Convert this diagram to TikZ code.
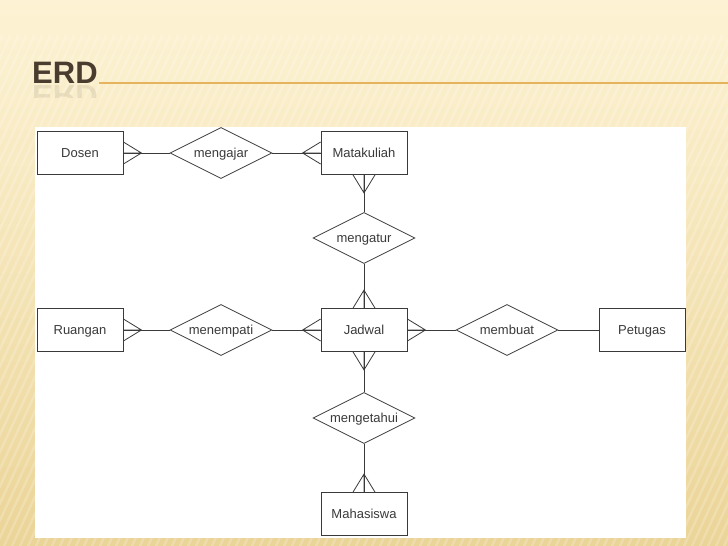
\documentclass[tikz,border=0pt]{standalone}
\usepackage{fontspec}
\setmainfont{Liberation Sans}
\usetikzlibrary{shapes.geometric,calc}

\definecolor{slidetop}{HTML}{FDF3D4}
\definecolor{slidebot}{HTML}{EBD497}
\definecolor{titlebrown}{HTML}{4A3C2E}
\definecolor{ruleorange}{HTML}{E6B45E}
\definecolor{erline}{HTML}{3A3A3A}

\tikzset{
  entity/.style={draw=erline, line width=.8pt, fill=white, minimum width=86pt,
    minimum height=43pt, inner sep=0pt, text=erline, text height=9pt, text depth=0pt,
    font=\fontsize{13}{15}\selectfont},
  relation/.style={draw=erline, line width=.8pt, fill=white, diamond, aspect=2,
    minimum width=102pt, minimum height=51pt, inner sep=0pt, text=erline,
    text height=9pt, text depth=0pt, font=\fontsize{13}{15}\selectfont},
  link/.style={draw=erline, line width=.8pt}
}
% three prongs at anchor #1, pointing in direction #2
\newcommand{\crowfoot}[2]{%
  \draw[link] ($(#1)+(#2+90:11)$) -- ($(#1)+(#2:18)$) -- ($(#1)+(#2-90:11)$)
    (#1) -- ($(#1)+(#2:18)$);}

\begin{document}
\begin{tikzpicture}[x=1pt,y=-1pt]
   \useasboundingbox (0,0) rectangle (728,546);
   % slide background
   \shade[top color=slidetop, bottom color=slidebot] (0,0) rectangle (728,546);
   \begin{scope}
     \clip (0,35) rectangle (728,546);
     \foreach \i in {-300,-292,...,728}
       \draw[white, opacity=.2, line width=2.5pt] (\i,546) -- (\i+255,0);
   \end{scope}
   % title
   \node[anchor=base west, inner sep=0pt, text=titlebrown,
     font=\fontsize{31}{31}\bfseries] (title) at (32,83) {ERD};
   \begin{scope}
     \clip (30,84) rectangle (100,97);
     \node[anchor=base west, inner sep=0pt, text=titlebrown, opacity=.1, yscale=-1,
       font=\fontsize{31}{31}\bfseries] at (32,85) {ERD};
   \end{scope}
   \draw[ruleorange, line width=1.5pt] (title.base east) ++(1,0) -- (728,83);
   \fill[white] (35,127) rectangle (686,538);

   % entities
   \node[entity] (dosen) at (80,153) {Dosen};
   \node[entity] (matakuliah) at (364,153) {Matakuliah};
   \node[entity] (ruangan) at (80,330) {Ruangan};
   \node[entity] (jadwal) at (364,330) {Jadwal};
   \node[entity] (petugas) at (642,330) {Petugas};
   \node[entity] (mahasiswa) at (364,514) {Mahasiswa};
   % relations
   \node[relation] (mengajar) at (221,153) {mengajar};
   \node[relation] (mengatur) at (364,238) {mengatur};
   \node[relation] (menempati) at (221,330) {menempati};
   \node[relation] (membuat) at (507,330) {membuat};
   \node[relation] (mengetahui) at (364,418) {mengetahui};

   \draw[link] (dosen) -- (mengajar) -- (matakuliah);
   \draw[link] (matakuliah) -- (mengatur) -- (jadwal);
   \draw[link] (ruangan) -- (menempati) -- (jadwal);
   \draw[link] (jadwal) -- (membuat) -- (petugas);
   \draw[link] (jadwal) -- (mengetahui) -- (mahasiswa);

   \crowfoot{dosen.east}{0}
   \crowfoot{matakuliah.west}{180}
   \crowfoot{matakuliah.south}{90}
   \crowfoot{jadwal.north}{270}
   \crowfoot{ruangan.east}{0}
   \crowfoot{jadwal.west}{180}
   \crowfoot{jadwal.east}{0}
   \crowfoot{jadwal.south}{90}
   \crowfoot{mahasiswa.north}{270}
\end{tikzpicture}
\end{document}
